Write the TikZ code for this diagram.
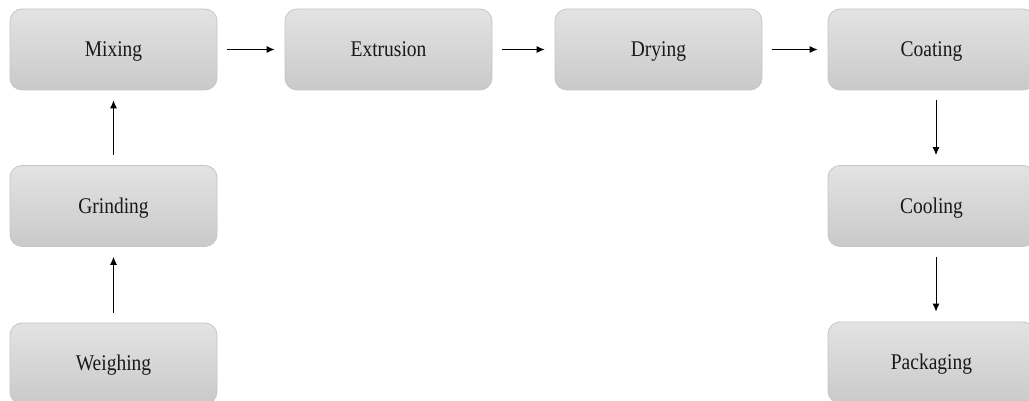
\documentclass[tikz,border=0pt]{standalone}
\usepackage{fontspec}
\setmainfont{Liberation Serif}
\usetikzlibrary{arrows.meta}
\newcommand{\stxt}[1]{\scalebox{1}[1.15]{#1}}
\begin{document}
\begin{tikzpicture}[x=1pt,y=-1pt,
  stepbox/.style={draw=gray!45, line width=0.8pt, rounded corners=12pt,
    top color=gray!22, bottom color=gray!42,
    minimum width=207pt, minimum height=81pt, inner sep=0pt,
    text height=17.6pt, text depth=3pt,
    font=\fontsize{19.5}{22}\selectfont, text=black!90},
  flow/.style={-{Latex[length=8pt,width=7pt]}, line width=0.9pt, shorten <=10pt, shorten >=10pt}]
\useasboundingbox (0,0) rectangle (1029,401);
\clip (0,0) rectangle (1029,401);
\fill[white] (0,0) rectangle (1029,401);
\node[stepbox] (mix) at (113.5,49.5) {\stxt{Mixing}};
\node[stepbox] (ext) at (388.5,49.5) {\stxt{Extrusion}};
\node[stepbox] (dry) at (658.5,49.5) {\stxt{Drying}};
\node[stepbox] (coat) at (931.5,49.5) {\stxt{Coating}};
\node[stepbox] (grind) at (113.5,206) {\stxt{Grinding}};
\node[stepbox] (cool) at (931.5,206) {\stxt{Cooling}};
\node[stepbox] (weigh) at (113.5,363.5) {\stxt{Weighing}};
\node[stepbox] (pack) at (931.5,362.5) {\stxt{Packaging}};
\draw[flow] (mix.east) -- (ext.west);
\draw[flow] (ext.east) -- (dry.west);
\draw[flow] (dry.east) -- (coat.west);
\draw[flow] (coat.south -| 936,0) -- (cool.north -| 936,0);
\draw[flow] (cool.south -| 936,0) -- (pack.north -| 936,0);
\draw[flow] (weigh.north) -- (grind.south);
\draw[flow] (grind.north) -- (mix.south);
\end{tikzpicture}
\end{document}
